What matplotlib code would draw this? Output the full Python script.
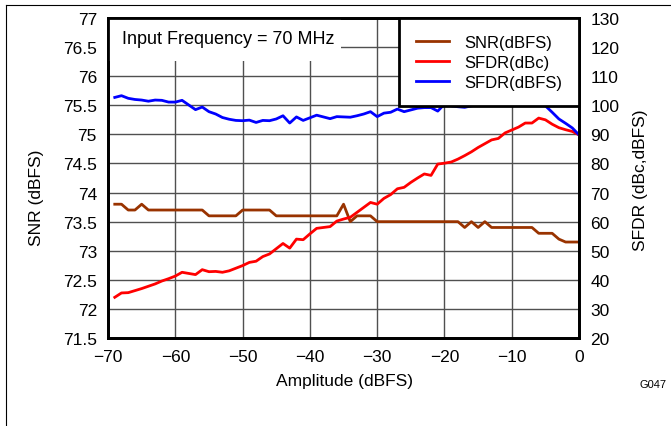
import matplotlib
matplotlib.use("Agg")
import matplotlib.pyplot as plt
from matplotlib.patches import Rectangle
from matplotlib.lines import Line2D

plt.rcParams['font.family'] = ['Liberation Sans', 'DejaVu Sans']

# -------------------------
# DATA
# -------------------------
amplitude = list(range(-69, 1))

snr_dbfs = [73.8, 73.8, 73.7, 73.7, 73.8, 73.7, 73.7, 73.7, 73.7, 73.7,
            73.7, 73.7, 73.7, 73.7, 73.6, 73.6, 73.6, 73.6, 73.6, 73.7,
            73.7, 73.7, 73.7, 73.7, 73.6, 73.6, 73.6, 73.6, 73.6, 73.6,
            73.6, 73.6, 73.6, 73.6, 73.8, 73.5, 73.6, 73.6, 73.6, 73.5,
            73.5, 73.5, 73.5, 73.5, 73.5, 73.5, 73.5, 73.5, 73.5, 73.5,
            73.5, 73.5, 73.4, 73.5, 73.4, 73.5, 73.4, 73.4, 73.4, 73.4,
            73.4, 73.4, 73.4, 73.3, 73.3, 73.3, 73.2, 73.15, 73.15, 73.15]

sfdr_dbc = [34.0, 35.5, 35.6, 36.3, 37.0, 37.8, 38.6, 39.6, 40.4, 41.3,
            42.6, 42.2, 41.8, 43.5, 42.8, 42.9, 42.6, 43.1, 44.0, 44.9,
            46.0, 46.4, 48.0, 48.9, 50.7, 52.5, 50.9, 54.0, 53.8, 55.8,
            57.7, 58.0, 58.3, 60.2, 60.9, 61.5, 63.2, 64.9, 66.6, 66.0,
            68.0, 69.3, 71.3, 71.8, 73.5, 75.0, 76.4, 75.9, 79.8, 80.1,
            80.5, 81.5, 82.7, 84.0, 85.5, 86.8, 88.1, 88.6, 90.5, 91.5,
            92.5, 93.9, 93.9, 95.6, 95.0, 93.5, 92.3, 91.6, 91.0, 89.8]

sfdr_dbfs = [102.7, 103.3, 102.4, 102.0, 101.8, 101.4, 101.8, 101.7, 101.1, 101.1,
             101.7, 100.1, 98.5, 99.4, 97.8, 97.0, 95.8, 95.2, 94.8, 94.7,
             94.9, 94.1, 94.8, 94.7, 95.3, 96.4, 93.9, 96.0, 94.8, 95.7,
             96.6, 96.0, 95.4, 96.1, 96.0, 95.9, 96.4, 97.0, 97.8, 96.1,
             97.3, 97.6, 98.7, 97.8, 98.4, 99.0, 99.2, 99.2, 98.0, 100.4,
             99.8, 99.5, 99.3, 99.8, 100.1, 100.4, 100.6, 100.8, 101.0, 101.2,
             101.0, 101.3, 101.0, 100.6, 99.8, 97.6, 95.3, 93.8, 92.2, 89.8]

x_ticks = [-70, -60, -50, -40, -30, -20, -10, 0]
snr_ticks = [71.5, 72, 72.5, 73, 73.5, 74, 74.5, 75, 75.5, 76, 76.5, 77]
sfdr_ticks = [20, 30, 40, 50, 60, 70, 80, 90, 100, 110, 120, 130]

# -------------------------
# FIGURE
# -------------------------
fig = plt.figure(figsize=(6.71, 4.27), dpi=100)
ax = fig.add_axes([0.161, 0.206, 0.702, 0.7495])
ax2 = ax.twinx()

ax.set_xlim(-70, 0)
ax.set_ylim(71.5, 77)
ax2.set_ylim(20, 130)

ax.set_xticks(x_ticks)
ax.set_xticklabels([f"{v:g}".replace("-", "\u2212") for v in x_ticks])
ax.set_yticks(snr_ticks)
ax.set_yticklabels([f"{v:g}" for v in snr_ticks])
ax2.set_yticks(sfdr_ticks)

ax.grid(True, color="#505050", linewidth=1.0)
ax.tick_params(length=0, labelsize=12.5, pad=8)
ax2.tick_params(length=0, labelsize=12.5, pad=8)

for a in (ax, ax2):
    for s in a.spines.values():
        s.set_linewidth(2)
        s.set_color("black")

l1, = ax.plot(amplitude, snr_dbfs, color="#993300", lw=2.0, label="SNR(dBFS)")
l2, = ax2.plot(amplitude, sfdr_dbc, color="#ff0000", lw=2.0, label="SFDR(dBc)")
l3, = ax2.plot(amplitude, sfdr_dbfs, color="#0000ff", lw=2.0, label="SFDR(dBFS)")

# caja blanca del texto
ax2.add_patch(Rectangle((0, 0.866), 0.494, 0.134, transform=ax2.transAxes,
                        facecolor="white", edgecolor="none", zorder=1))
ax2.text(0.03, 0.935, "Input Frequency = 70 MHz", transform=ax2.transAxes,
         fontsize=13, ha="left", va="center", zorder=3)

leg = ax2.legend(handles=[l1, l2, l3], loc="upper right", bbox_to_anchor=(1, 1),
                 borderaxespad=0, fancybox=False, framealpha=1, fontsize=12,
                 handlelength=2.0, handletextpad=0.9, labelspacing=0.3,
                 borderpad=1.0)
leg.get_frame().set_edgecolor("black")
leg.get_frame().set_linewidth(2)
leg.set_zorder(5)

fig.text(36 / 671, 1 - 198 / 427, "SNR (dBFS)", rotation=90, ha="center", va="center", fontsize=12.5)
fig.text(641 / 671, 1 - 180 / 427, "SFDR (dBc,dBFS)", rotation=90, ha="center", va="center", fontsize=12.5)
fig.text(345 / 671, 1 - 382 / 427, "Amplitude (dBFS)", ha="center", va="center", fontsize=12.5)
fig.text(667 / 671, 1 - 385 / 427, "G047", ha="right", va="center", fontsize=8)

# marco de la figura
fig.add_artist(Line2D([6 / 671, 1], [1 - 6 / 427, 1 - 6 / 427], color="black", lw=0.8))
fig.add_artist(Line2D([6 / 671, 6 / 671], [0, 1 - 6 / 427], color="black", lw=0.8))

fig.savefig("out.png", dpi=100)
